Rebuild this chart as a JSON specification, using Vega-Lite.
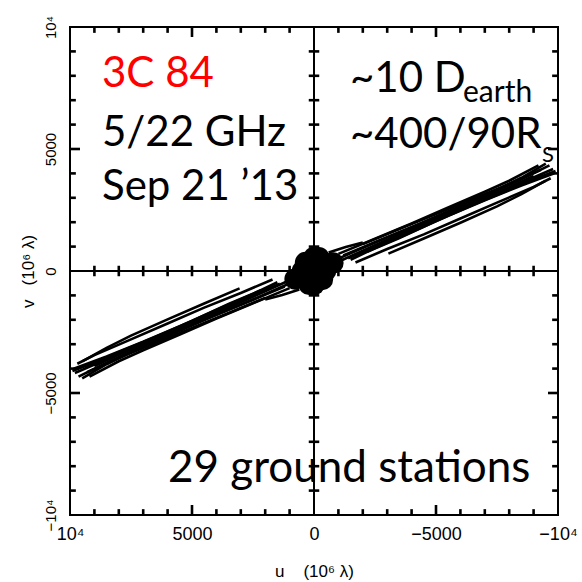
{
  "$schema": "https://vega.github.io/schema/vega-lite/v6.json",
  "width": 488,
  "height": 488,
  "autosize": "none",
  "padding": {"left": 70, "top": 27, "right": 24, "bottom": 67},
  "background": "white",
  "config": {
    "view": {"stroke": "#000", "strokeWidth": 2},
    "axis": {"grid": false, "domain": false, "labelColor": "#000", "titleColor": "#000", "labelFont": "Liberation Sans", "titleFont": "Liberation Sans", "titleFontWeight": "normal"}
  },
  "datasets": {
    "tracks": [
      {"t": "A", "u": -800, "v": 420}, {"t": "A", "u": -2500, "v": 1170}, {"t": "A", "u": -4000, "v": 1800}, {"t": "A", "u": -5500, "v": 2450}, {"t": "A", "u": -7000, "v": 3100}, {"t": "A", "u": -8500, "v": 3820}, {"t": "A", "u": -9500, "v": 4400},
      {"t": "B", "u": -1000, "v": 380}, {"t": "B", "u": -2500, "v": 1060}, {"t": "B", "u": -4000, "v": 1720}, {"t": "B", "u": -5500, "v": 2400}, {"t": "B", "u": -7000, "v": 3060}, {"t": "B", "u": -8500, "v": 3760}, {"t": "B", "u": -9650, "v": 4330},
      {"t": "C", "u": -1200, "v": 640}, {"t": "C", "u": -2500, "v": 1180}, {"t": "C", "u": -4000, "v": 1790}, {"t": "C", "u": -5500, "v": 2380}, {"t": "C", "u": -7000, "v": 2990}, {"t": "C", "u": -8500, "v": 3620}, {"t": "C", "u": -9800, "v": 4180},
      {"t": "D", "u": -1400, "v": 520}, {"t": "D", "u": -2500, "v": 1000}, {"t": "D", "u": -4000, "v": 1640}, {"t": "D", "u": -5500, "v": 2320}, {"t": "D", "u": -7000, "v": 2950}, {"t": "D", "u": -8500, "v": 3560}, {"t": "D", "u": -9900, "v": 4100},
      {"t": "E", "u": -1500, "v": 460}, {"t": "E", "u": -2500, "v": 940}, {"t": "E", "u": -4000, "v": 1600}, {"t": "E", "u": -5500, "v": 2260}, {"t": "E", "u": -7000, "v": 2900}, {"t": "E", "u": -8500, "v": 3500}, {"t": "E", "u": -9850, "v": 4000},
      {"t": "F", "u": -3050, "v": 710}, {"t": "F", "u": -4500, "v": 1330}, {"t": "F", "u": -6000, "v": 1980}, {"t": "F", "u": -7500, "v": 2650}, {"t": "F", "u": -8500, "v": 3150}, {"t": "F", "u": -9500, "v": 3700},
      {"t": "G", "u": -600, "v": 760}, {"t": "G", "u": -1300, "v": 980}, {"t": "G", "u": -2000, "v": 1170},
      {"t": "H", "u": -2000, "v": 1100}, {"t": "H", "u": -3500, "v": 1720}, {"t": "H", "u": -5000, "v": 2330}, {"t": "H", "u": -6500, "v": 2950}, {"t": "H", "u": -8000, "v": 3560}, {"t": "H", "u": -9300, "v": 4150},
      {"t": "I", "u": -1800, "v": 700}, {"t": "I", "u": -3000, "v": 1200}, {"t": "I", "u": -4500, "v": 1870}, {"t": "I", "u": -6000, "v": 2600}, {"t": "I", "u": -7500, "v": 3200}, {"t": "I", "u": -9000, "v": 3900},
      {"t": "J", "u": -2200, "v": 800}, {"t": "J", "u": -3500, "v": 1350}, {"t": "J", "u": -5000, "v": 2050}, {"t": "J", "u": -6500, "v": 2700}, {"t": "J", "u": -8000, "v": 3330}, {"t": "J", "u": -9400, "v": 3950},
      {"t": "K", "u": -1700, "v": 350}, {"t": "K", "u": -3000, "v": 900}, {"t": "K", "u": -4500, "v": 1500}, {"t": "K", "u": -6000, "v": 2150}, {"t": "K", "u": -7500, "v": 2800}, {"t": "K", "u": -9000, "v": 3450}, {"t": "K", "u": -9700, "v": 3800},
      {"t": "L", "u": -1000, "v": 700}, {"t": "L", "u": -2500, "v": 1320}, {"t": "L", "u": -4000, "v": 1950}, {"t": "L", "u": -5500, "v": 2600}, {"t": "L", "u": -7000, "v": 3250}, {"t": "L", "u": -8000, "v": 3700}, {"t": "L", "u": -9200, "v": 4330},
      {"t": "A2", "u": 800, "v": -420}, {"t": "A2", "u": 2500, "v": -1170}, {"t": "A2", "u": 4000, "v": -1800}, {"t": "A2", "u": 5500, "v": -2450}, {"t": "A2", "u": 7000, "v": -3100}, {"t": "A2", "u": 8500, "v": -3820}, {"t": "A2", "u": 9500, "v": -4400},
      {"t": "B2", "u": 1000, "v": -380}, {"t": "B2", "u": 2500, "v": -1060}, {"t": "B2", "u": 4000, "v": -1720}, {"t": "B2", "u": 5500, "v": -2400}, {"t": "B2", "u": 7000, "v": -3060}, {"t": "B2", "u": 8500, "v": -3760}, {"t": "B2", "u": 9650, "v": -4330},
      {"t": "C2", "u": 1200, "v": -640}, {"t": "C2", "u": 2500, "v": -1180}, {"t": "C2", "u": 4000, "v": -1790}, {"t": "C2", "u": 5500, "v": -2380}, {"t": "C2", "u": 7000, "v": -2990}, {"t": "C2", "u": 8500, "v": -3620}, {"t": "C2", "u": 9800, "v": -4180},
      {"t": "D2", "u": 1400, "v": -520}, {"t": "D2", "u": 2500, "v": -1000}, {"t": "D2", "u": 4000, "v": -1640}, {"t": "D2", "u": 5500, "v": -2320}, {"t": "D2", "u": 7000, "v": -2950}, {"t": "D2", "u": 8500, "v": -3560}, {"t": "D2", "u": 9900, "v": -4100},
      {"t": "E2", "u": 1500, "v": -460}, {"t": "E2", "u": 2500, "v": -940}, {"t": "E2", "u": 4000, "v": -1600}, {"t": "E2", "u": 5500, "v": -2260}, {"t": "E2", "u": 7000, "v": -2900}, {"t": "E2", "u": 8500, "v": -3500}, {"t": "E2", "u": 9850, "v": -4000},
      {"t": "F2", "u": 3050, "v": -710}, {"t": "F2", "u": 4500, "v": -1330}, {"t": "F2", "u": 6000, "v": -1980}, {"t": "F2", "u": 7500, "v": -2650}, {"t": "F2", "u": 8500, "v": -3150}, {"t": "F2", "u": 9500, "v": -3700},
      {"t": "G2", "u": 600, "v": -760}, {"t": "G2", "u": 1300, "v": -980}, {"t": "G2", "u": 2000, "v": -1170},
      {"t": "H2", "u": 2000, "v": -1100}, {"t": "H2", "u": 3500, "v": -1720}, {"t": "H2", "u": 5000, "v": -2330}, {"t": "H2", "u": 6500, "v": -2950}, {"t": "H2", "u": 8000, "v": -3560}, {"t": "H2", "u": 9300, "v": -4150},
      {"t": "I2", "u": 1800, "v": -700}, {"t": "I2", "u": 3000, "v": -1200}, {"t": "I2", "u": 4500, "v": -1870}, {"t": "I2", "u": 6000, "v": -2600}, {"t": "I2", "u": 7500, "v": -3200}, {"t": "I2", "u": 9000, "v": -3900},
      {"t": "J2", "u": 2200, "v": -800}, {"t": "J2", "u": 3500, "v": -1350}, {"t": "J2", "u": 5000, "v": -2050}, {"t": "J2", "u": 6500, "v": -2700}, {"t": "J2", "u": 8000, "v": -3330}, {"t": "J2", "u": 9400, "v": -3950},
      {"t": "K2", "u": 1700, "v": -350}, {"t": "K2", "u": 3000, "v": -900}, {"t": "K2", "u": 4500, "v": -1500}, {"t": "K2", "u": 6000, "v": -2150}, {"t": "K2", "u": 7500, "v": -2800}, {"t": "K2", "u": 9000, "v": -3450}, {"t": "K2", "u": 9700, "v": -3800},
      {"t": "L2", "u": 1000, "v": -700}, {"t": "L2", "u": 2500, "v": -1320}, {"t": "L2", "u": 4000, "v": -1950}, {"t": "L2", "u": 5500, "v": -2600}, {"t": "L2", "u": 7000, "v": -3250}, {"t": "L2", "u": 8000, "v": -3700}, {"t": "L2", "u": 9200, "v": -4330},
      {"t": "b-9", "u": -9000, "v": -10000}, {"t": "b-9", "u": -9000, "v": -9760},
      {"t": "b-8", "u": -8000, "v": -10000}, {"t": "b-8", "u": -8000, "v": -9760},
      {"t": "b-7", "u": -7000, "v": -10000}, {"t": "b-7", "u": -7000, "v": -9760},
      {"t": "b-6", "u": -6000, "v": -10000}, {"t": "b-6", "u": -6000, "v": -9760},
      {"t": "b-5", "u": -5000, "v": -10000}, {"t": "b-5", "u": -5000, "v": -9590},
      {"t": "b-4", "u": -4000, "v": -10000}, {"t": "b-4", "u": -4000, "v": -9760},
      {"t": "b-3", "u": -3000, "v": -10000}, {"t": "b-3", "u": -3000, "v": -9760},
      {"t": "b-2", "u": -2000, "v": -10000}, {"t": "b-2", "u": -2000, "v": -9760},
      {"t": "b-1", "u": -1000, "v": -10000}, {"t": "b-1", "u": -1000, "v": -9760},
      {"t": "b1", "u": 1000, "v": -10000}, {"t": "b1", "u": 1000, "v": -9760},
      {"t": "b2", "u": 2000, "v": -10000}, {"t": "b2", "u": 2000, "v": -9760},
      {"t": "b3", "u": 3000, "v": -10000}, {"t": "b3", "u": 3000, "v": -9760},
      {"t": "b4", "u": 4000, "v": -10000}, {"t": "b4", "u": 4000, "v": -9760},
      {"t": "b5", "u": 5000, "v": -10000}, {"t": "b5", "u": 5000, "v": -9590},
      {"t": "b6", "u": 6000, "v": -10000}, {"t": "b6", "u": 6000, "v": -9760},
      {"t": "b7", "u": 7000, "v": -10000}, {"t": "b7", "u": 7000, "v": -9760},
      {"t": "b8", "u": 8000, "v": -10000}, {"t": "b8", "u": 8000, "v": -9760},
      {"t": "b9", "u": 9000, "v": -10000}, {"t": "b9", "u": 9000, "v": -9760},
      {"t": "tp-9", "u": -9000, "v": 10000}, {"t": "tp-9", "u": -9000, "v": 9760},
      {"t": "tp-8", "u": -8000, "v": 10000}, {"t": "tp-8", "u": -8000, "v": 9760},
      {"t": "tp-7", "u": -7000, "v": 10000}, {"t": "tp-7", "u": -7000, "v": 9760},
      {"t": "tp-6", "u": -6000, "v": 10000}, {"t": "tp-6", "u": -6000, "v": 9760},
      {"t": "tp-5", "u": -5000, "v": 10000}, {"t": "tp-5", "u": -5000, "v": 9590},
      {"t": "tp-4", "u": -4000, "v": 10000}, {"t": "tp-4", "u": -4000, "v": 9760},
      {"t": "tp-3", "u": -3000, "v": 10000}, {"t": "tp-3", "u": -3000, "v": 9760},
      {"t": "tp-2", "u": -2000, "v": 10000}, {"t": "tp-2", "u": -2000, "v": 9760},
      {"t": "tp-1", "u": -1000, "v": 10000}, {"t": "tp-1", "u": -1000, "v": 9760},
      {"t": "tp1", "u": 1000, "v": 10000}, {"t": "tp1", "u": 1000, "v": 9760},
      {"t": "tp2", "u": 2000, "v": 10000}, {"t": "tp2", "u": 2000, "v": 9760},
      {"t": "tp3", "u": 3000, "v": 10000}, {"t": "tp3", "u": 3000, "v": 9760},
      {"t": "tp4", "u": 4000, "v": 10000}, {"t": "tp4", "u": 4000, "v": 9760},
      {"t": "tp5", "u": 5000, "v": 10000}, {"t": "tp5", "u": 5000, "v": 9590},
      {"t": "tp6", "u": 6000, "v": 10000}, {"t": "tp6", "u": 6000, "v": 9760},
      {"t": "tp7", "u": 7000, "v": 10000}, {"t": "tp7", "u": 7000, "v": 9760},
      {"t": "tp8", "u": 8000, "v": 10000}, {"t": "tp8", "u": 8000, "v": 9760},
      {"t": "tp9", "u": 9000, "v": 10000}, {"t": "tp9", "u": 9000, "v": 9760},
      {"t": "l-9", "u": 10000, "v": -9000}, {"t": "l-9", "u": 9760, "v": -9000},
      {"t": "l-8", "u": 10000, "v": -8000}, {"t": "l-8", "u": 9760, "v": -8000},
      {"t": "l-7", "u": 10000, "v": -7000}, {"t": "l-7", "u": 9760, "v": -7000},
      {"t": "l-6", "u": 10000, "v": -6000}, {"t": "l-6", "u": 9760, "v": -6000},
      {"t": "l-5", "u": 10000, "v": -5000}, {"t": "l-5", "u": 9590, "v": -5000},
      {"t": "l-4", "u": 10000, "v": -4000}, {"t": "l-4", "u": 9760, "v": -4000},
      {"t": "l-3", "u": 10000, "v": -3000}, {"t": "l-3", "u": 9760, "v": -3000},
      {"t": "l-2", "u": 10000, "v": -2000}, {"t": "l-2", "u": 9760, "v": -2000},
      {"t": "l-1", "u": 10000, "v": -1000}, {"t": "l-1", "u": 9760, "v": -1000},
      {"t": "l1", "u": 10000, "v": 1000}, {"t": "l1", "u": 9760, "v": 1000},
      {"t": "l2", "u": 10000, "v": 2000}, {"t": "l2", "u": 9760, "v": 2000},
      {"t": "l3", "u": 10000, "v": 3000}, {"t": "l3", "u": 9760, "v": 3000},
      {"t": "l4", "u": 10000, "v": 4000}, {"t": "l4", "u": 9760, "v": 4000},
      {"t": "l5", "u": 10000, "v": 5000}, {"t": "l5", "u": 9590, "v": 5000},
      {"t": "l6", "u": 10000, "v": 6000}, {"t": "l6", "u": 9760, "v": 6000},
      {"t": "l7", "u": 10000, "v": 7000}, {"t": "l7", "u": 9760, "v": 7000},
      {"t": "l8", "u": 10000, "v": 8000}, {"t": "l8", "u": 9760, "v": 8000},
      {"t": "l9", "u": 10000, "v": 9000}, {"t": "l9", "u": 9760, "v": 9000},
      {"t": "r-9", "u": -10000, "v": -9000}, {"t": "r-9", "u": -9760, "v": -9000},
      {"t": "r-8", "u": -10000, "v": -8000}, {"t": "r-8", "u": -9760, "v": -8000},
      {"t": "r-7", "u": -10000, "v": -7000}, {"t": "r-7", "u": -9760, "v": -7000},
      {"t": "r-6", "u": -10000, "v": -6000}, {"t": "r-6", "u": -9760, "v": -6000},
      {"t": "r-5", "u": -10000, "v": -5000}, {"t": "r-5", "u": -9590, "v": -5000},
      {"t": "r-4", "u": -10000, "v": -4000}, {"t": "r-4", "u": -9760, "v": -4000},
      {"t": "r-3", "u": -10000, "v": -3000}, {"t": "r-3", "u": -9760, "v": -3000},
      {"t": "r-2", "u": -10000, "v": -2000}, {"t": "r-2", "u": -9760, "v": -2000},
      {"t": "r-1", "u": -10000, "v": -1000}, {"t": "r-1", "u": -9760, "v": -1000},
      {"t": "r1", "u": -10000, "v": 1000}, {"t": "r1", "u": -9760, "v": 1000},
      {"t": "r2", "u": -10000, "v": 2000}, {"t": "r2", "u": -9760, "v": 2000},
      {"t": "r3", "u": -10000, "v": 3000}, {"t": "r3", "u": -9760, "v": 3000},
      {"t": "r4", "u": -10000, "v": 4000}, {"t": "r4", "u": -9760, "v": 4000},
      {"t": "r5", "u": -10000, "v": 5000}, {"t": "r5", "u": -9590, "v": 5000},
      {"t": "r6", "u": -10000, "v": 6000}, {"t": "r6", "u": -9760, "v": 6000},
      {"t": "r7", "u": -10000, "v": 7000}, {"t": "r7", "u": -9760, "v": 7000},
      {"t": "r8", "u": -10000, "v": 8000}, {"t": "r8", "u": -9760, "v": 8000},
      {"t": "r9", "u": -10000, "v": 9000}, {"t": "r9", "u": -9760, "v": 9000},
      {"t": "cx-9", "u": -9000, "v": -215}, {"t": "cx-9", "u": -9000, "v": 215},
      {"t": "cx-8", "u": -8000, "v": -215}, {"t": "cx-8", "u": -8000, "v": 215},
      {"t": "cx-7", "u": -7000, "v": -215}, {"t": "cx-7", "u": -7000, "v": 215},
      {"t": "cx-6", "u": -6000, "v": -215}, {"t": "cx-6", "u": -6000, "v": 215},
      {"t": "cx-5", "u": -5000, "v": -215}, {"t": "cx-5", "u": -5000, "v": 215},
      {"t": "cx-4", "u": -4000, "v": -215}, {"t": "cx-4", "u": -4000, "v": 215},
      {"t": "cx-3", "u": -3000, "v": -215}, {"t": "cx-3", "u": -3000, "v": 215},
      {"t": "cx-2", "u": -2000, "v": -215}, {"t": "cx-2", "u": -2000, "v": 215},
      {"t": "cx-1", "u": -1000, "v": -215}, {"t": "cx-1", "u": -1000, "v": 215},
      {"t": "cx1", "u": 1000, "v": -215}, {"t": "cx1", "u": 1000, "v": 215},
      {"t": "cx2", "u": 2000, "v": -215}, {"t": "cx2", "u": 2000, "v": 215},
      {"t": "cx3", "u": 3000, "v": -215}, {"t": "cx3", "u": 3000, "v": 215},
      {"t": "cx4", "u": 4000, "v": -215}, {"t": "cx4", "u": 4000, "v": 215},
      {"t": "cx5", "u": 5000, "v": -215}, {"t": "cx5", "u": 5000, "v": 215},
      {"t": "cx6", "u": 6000, "v": -215}, {"t": "cx6", "u": 6000, "v": 215},
      {"t": "cx7", "u": 7000, "v": -215}, {"t": "cx7", "u": 7000, "v": 215},
      {"t": "cx8", "u": 8000, "v": -215}, {"t": "cx8", "u": 8000, "v": 215},
      {"t": "cx9", "u": 9000, "v": -215}, {"t": "cx9", "u": 9000, "v": 215},
      {"t": "cy-9", "u": -215, "v": -9000}, {"t": "cy-9", "u": 215, "v": -9000},
      {"t": "cy-8", "u": -215, "v": -8000}, {"t": "cy-8", "u": 215, "v": -8000},
      {"t": "cy-7", "u": -215, "v": -7000}, {"t": "cy-7", "u": 215, "v": -7000},
      {"t": "cy-6", "u": -215, "v": -6000}, {"t": "cy-6", "u": 215, "v": -6000},
      {"t": "cy-5", "u": -215, "v": -5000}, {"t": "cy-5", "u": 215, "v": -5000},
      {"t": "cy-4", "u": -215, "v": -4000}, {"t": "cy-4", "u": 215, "v": -4000},
      {"t": "cy-3", "u": -215, "v": -3000}, {"t": "cy-3", "u": 215, "v": -3000},
      {"t": "cy-2", "u": -215, "v": -2000}, {"t": "cy-2", "u": 215, "v": -2000},
      {"t": "cy-1", "u": -215, "v": -1000}, {"t": "cy-1", "u": 215, "v": -1000},
      {"t": "cy1", "u": -215, "v": 1000}, {"t": "cy1", "u": 215, "v": 1000},
      {"t": "cy2", "u": -215, "v": 2000}, {"t": "cy2", "u": 215, "v": 2000},
      {"t": "cy3", "u": -215, "v": 3000}, {"t": "cy3", "u": 215, "v": 3000},
      {"t": "cy4", "u": -215, "v": 4000}, {"t": "cy4", "u": 215, "v": 4000},
      {"t": "cy5", "u": -215, "v": 5000}, {"t": "cy5", "u": 215, "v": 5000},
      {"t": "cy6", "u": -215, "v": 6000}, {"t": "cy6", "u": 215, "v": 6000},
      {"t": "cy7", "u": -215, "v": 7000}, {"t": "cy7", "u": 215, "v": 7000},
      {"t": "cy8", "u": -215, "v": 8000}, {"t": "cy8", "u": 215, "v": 8000},
      {"t": "cy9", "u": -215, "v": 9000}, {"t": "cy9", "u": 215, "v": 9000}
    ],
    "blob": [
      {"u": 0, "v": 0}, {"u": 0, "v": 560}, {"u": 0, "v": -560}, {"u": 480, "v": 0}, {"u": -480, "v": 0},
      {"u": 350, "v": 350}, {"u": -350, "v": -350}, {"u": 350, "v": -350}, {"u": -350, "v": 350},
      {"u": -200, "v": 550}, {"u": 200, "v": -550}, {"u": 600, "v": -250}, {"u": -600, "v": 250},
      {"u": 780, "v": -330}, {"u": -780, "v": 330}, {"u": 180, "v": 250}, {"u": -180, "v": -250}
    ]
  },
  "layer": [
    {
      "data": {"name": "tracks"},
      "mark": {"type": "line", "color": "#000", "strokeWidth": 2.6},
      "encoding": {
        "x": {"field": "u", "type": "quantitative", "scale": {"domain": [-10000, 10000], "reverse": true, "nice": false, "zero": false},
          "axis": {"orient": "bottom", "values": [-10000, -5000, 0, 5000, 10000], "ticks": false, "labelPadding": 10, "labelFontSize": 18, "labelFlush": false, "labelOverlap": false, "labelBound": false,
            "labelExpr": "datum.value == 10000 ? '10⁴' : datum.value == -10000 ? '−10⁴' : datum.value < 0 ? '−' + (-datum.value) : '' + datum.value",
            "title": "u\u00a0\u00a0\u00a0\u00a0(10⁶ λ)", "titleFontSize": 17, "titleY": 48, "titleBaseline": "top"}},
        "y": {"field": "v", "type": "quantitative", "scale": {"domain": [-10000, 10000], "nice": false, "zero": false},
          "axis": {"orient": "left", "values": [-10000, -5000, 0, 5000, 10000], "ticks": false, "labelPadding": 12, "labelFontSize": 15, "labelAngle": -90, "labelAlign": "center", "labelBaseline": "bottom", "labelFlush": false, "labelOverlap": false, "labelBound": false,
            "labelExpr": "datum.value == 10000 ? '10⁴' : datum.value == -10000 ? '−10⁴' : datum.value < 0 ? '−' + (-datum.value) : '' + datum.value",
            "title": "v\u00a0\u00a0\u00a0(10⁶ λ)", "titleFontSize": 17, "titleAngle": -90, "titleX": -33, "titleY": 244, "titleBaseline": "bottom", "titleAlign": "center"}},
        "detail": {"field": "t"}
      }
    },
    {
      "data": {"name": "blob"},
      "mark": {"type": "point", "filled": true, "color": "#000", "opacity": 1, "size": 450},
      "encoding": {
        "x": {"field": "u", "type": "quantitative"},
        "y": {"field": "v", "type": "quantitative"}
      }
    },
    {
      "data": {"values": [{}]},
      "mark": {"type": "rule", "color": "#000", "strokeWidth": 2},
      "encoding": {"x": {"datum": 0, "type": "quantitative"}}
    },
    {
      "data": {"values": [{}]},
      "mark": {"type": "rule", "color": "#000", "strokeWidth": 2},
      "encoding": {"y": {"datum": 0, "type": "quantitative"}}
    },
    {
      "data": {"values": [{}]},
      "mark": {"type": "text", "text": "3C 84", "font": "Lato", "fontSize": 42, "color": "#ff0000", "align": "left", "baseline": "alphabetic"},
      "encoding": {"x": {"datum": 8689, "type": "quantitative"}, "y": {"datum": 7541, "type": "quantitative"}}
    },
    {
      "data": {"values": [{}]},
      "mark": {"type": "text", "text": "5/22 GHz", "font": "Lato", "fontSize": 42, "color": "#000", "align": "left", "baseline": "alphabetic"},
      "encoding": {"x": {"datum": 8689, "type": "quantitative"}, "y": {"datum": 5123, "type": "quantitative"}}
    },
    {
      "data": {"values": [{}]},
      "mark": {"type": "text", "text": "Sep 21 ’13", "font": "Lato", "fontSize": 42, "color": "#000", "align": "left", "baseline": "alphabetic"},
      "encoding": {"x": {"datum": 8689, "type": "quantitative"}, "y": {"datum": 2910, "type": "quantitative"}}
    },
    {
      "data": {"values": [{}]},
      "mark": {"type": "text", "text": "~10 D", "font": "Lato", "fontSize": 42, "color": "#000", "align": "left", "baseline": "alphabetic"},
      "encoding": {"x": {"datum": -1475, "type": "quantitative"}, "y": {"datum": 7336, "type": "quantitative"}}
    },
    {
      "data": {"values": [{}]},
      "mark": {"type": "text", "text": "earth", "font": "Lato", "fontSize": 30, "color": "#000", "align": "left", "baseline": "alphabetic"},
      "encoding": {"x": {"datum": -6107, "type": "quantitative"}, "y": {"datum": 6926, "type": "quantitative"}}
    },
    {
      "data": {"values": [{}]},
      "mark": {"type": "text", "text": "~400/90R", "font": "Lato", "fontSize": 42, "color": "#000", "align": "left", "baseline": "alphabetic"},
      "encoding": {"x": {"datum": -1475, "type": "quantitative"}, "y": {"datum": 5041, "type": "quantitative"}}
    },
    {
      "data": {"values": [{}]},
      "mark": {"type": "text", "text": "S", "font": "Lato", "fontSize": 22, "color": "#000", "align": "left", "baseline": "alphabetic"},
      "encoding": {"x": {"datum": -9344, "type": "quantitative"}, "y": {"datum": 4467, "type": "quantitative"}}
    },
    {
      "data": {"values": [{}]},
      "mark": {"type": "text", "text": "29 ground stations", "font": "Lato", "fontSize": 44, "color": "#000", "align": "left", "baseline": "alphabetic"},
      "encoding": {"x": {"datum": 5984, "type": "quantitative"}, "y": {"datum": -8648, "type": "quantitative"}}
    }
  ]
}
